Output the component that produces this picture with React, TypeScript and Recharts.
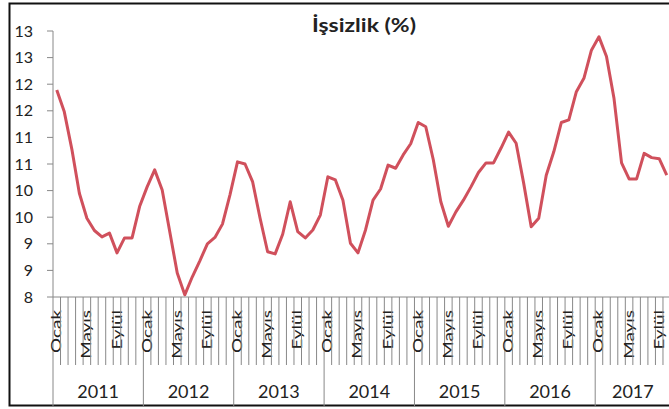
import React from 'react';
import { LineChart, Line, XAxis, YAxis } from 'recharts';

const years = [2011, 2012, 2013, 2014, 2015, 2016, 2017];
const months = ['Ocak', 'Şubat', 'Mart', 'Nisan', 'Mayıs', 'Haziran', 'Temmuz', 'Ağustos', 'Eylül', 'Ekim', 'Kasım', 'Aralık'];
const shownMonths = [0, 4, 8];

// işsizlik oranı, aylık
const rate2011 = [11.89, 11.48, 10.78, 9.95, 9.48, 9.25, 9.13, 9.2, 8.83, 9.11, 9.11, 9.7];
const rate2012 = [10.07, 10.39, 10.01, 9.23, 8.45, 8.04, 8.38, 8.68, 9.0, 9.12, 9.37, 9.92];
const rate2013 = [10.54, 10.5, 10.17, 9.48, 8.85, 8.81, 9.18, 9.79, 9.23, 9.11, 9.26, 9.54];
const rate2014 = [10.26, 10.2, 9.82, 9.01, 8.83, 9.26, 9.82, 10.03, 10.48, 10.42, 10.67, 10.88];
const rate2015 = [11.28, 11.2, 10.58, 9.79, 9.33, 9.6, 9.82, 10.07, 10.34, 10.52, 10.52, 10.8];
const rate2016 = [11.1, 10.89, 10.14, 9.32, 9.48, 10.29, 10.73, 11.28, 11.33, 11.86, 12.11, 12.64];
const rate2017 = [12.89, 12.52, 11.73, 10.52, 10.22, 10.22, 10.7, 10.62, 10.6, 10.29];

const yTicks = [8, 8.5, 9, 9.5, 10, 10.5, 11, 11.5, 12, 12.5, 13];

const rates = [rate2011, rate2012, rate2013, rate2014, rate2015, rate2016, rate2017];
const data = rates.flatMap((arr, yi) =>
  arr.map((v, m) => ({ key: `${years[yi]}-${m + 1}`, year: years[yi], month: m, value: v }))
);

const CHART_W = 700;
const CHART_H = 409;
const LEFT = 53;
const TOP = 31;
const AXIS_Y = 297;
const PLOT_W = 617.5;
const BW = PLOT_W / data.length;
const FONT = 'Lato, "Open Sans", sans-serif';
const GRAY = '#888888';

const MonthTick = (props: any) => {
  const { x, payload } = props;
  const i = payload.index;
  const d = data[i];
  const left = x - BW / 2;
  const isJan = d.month === 0;
  let yearLabel = null;
  if (isJan) {
    const count = data.filter((r) => r.year === d.year).length;
    yearLabel = (
      <text x={left + (count * BW) / 2} y={398} textAnchor="middle" fontSize={18} fontFamily={FONT} fill="#222">
        {d.year}
      </text>
    );
  }
  return (
    <g>
      <line x1={left} x2={left} y1={AXIS_Y} y2={isJan ? 406 : 365} stroke={GRAY} strokeWidth={1} />
      {i === data.length - 1 && (
        <line x1={x + BW / 2} x2={x + BW / 2} y1={AXIS_Y} y2={406} stroke={GRAY} strokeWidth={1} />
      )}
      {shownMonths.includes(d.month) && (
        <text
          transform={`translate(${x + 4.5},${310}) rotate(-90) scale(1.45,1)`}
          textAnchor="end"
          fontSize={13}
          fontFamily={FONT}
          fill="#222"
        >
          {months[d.month]}
        </text>
      )}
      {yearLabel}
    </g>
  );
};

export default function App() {
  return (
    <div style={{ position: 'absolute', left: 0, top: 0, width: 669, height: 409, overflow: 'hidden', background: '#fff' }}>
      <svg width={CHART_W} height={CHART_H} style={{ position: 'absolute', left: 0, top: 0 }}>
        <rect x={9.5} y={3.5} width={CHART_W} height={402} fill="#fff" stroke="#111" strokeWidth={2} />
        <text x={364} y={32} textAnchor="middle" fontSize={18} fontWeight="bold" fontFamily={FONT} fill="#222" textLength={104} lengthAdjust="spacingAndGlyphs">
          İşsizlik (%)
        </text>
      </svg>
      <div style={{ position: 'absolute', left: 0, top: 0 }}>
        <LineChart
          width={CHART_W}
          height={CHART_H}
          data={data}
          margin={{ top: TOP, right: CHART_W - LEFT - PLOT_W, bottom: 0, left: 0 }}
        >
          <YAxis
            width={LEFT}
            domain={[8, 13]}
            ticks={yTicks}
            interval={0}
            tickFormatter={(v: number) => String(Math.round(v))}
            axisLine={{ stroke: GRAY }}
            tickLine={{ stroke: GRAY }}
            tickSize={6}
            tickMargin={14}
            tick={{ fontSize: 16, fontFamily: FONT, fill: '#222' }}
          />
          <XAxis
            dataKey="key"
            height={CHART_H - AXIS_Y}
            interval={0}
            padding={{ left: BW / 2, right: BW / 2 }}
            tickLine={false}
            tickSize={0}
            tickMargin={0}
            axisLine={{ stroke: GRAY }}
            tick={<MonthTick />}
          />
          <Line
            type="linear"
            dataKey="value"
            stroke="#d0505c"
            strokeWidth={3}
            dot={false}
            strokeLinejoin="round"
            isAnimationActive={false}
          />
        </LineChart>
      </div>
    </div>
  );
}
